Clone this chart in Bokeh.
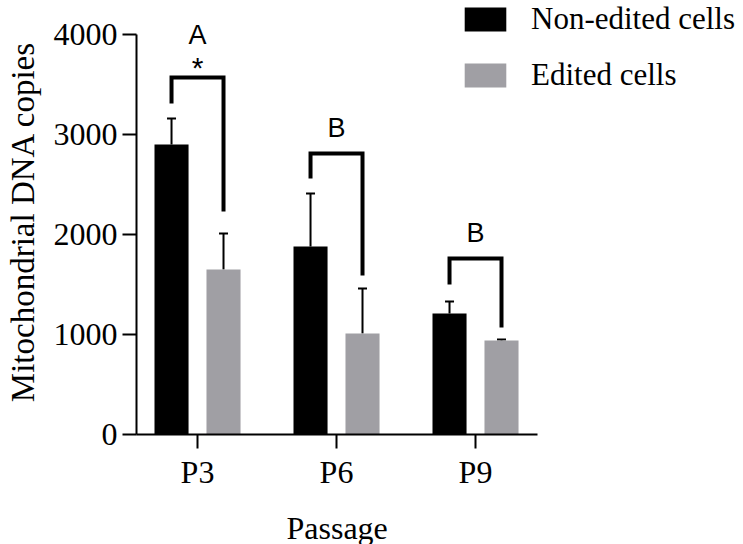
from bokeh.plotting import figure
from bokeh.models import (Range1d, Whisker, ColumnDataSource, Legend, LegendItem,
                          TeeHead, FixedTicker, Title)
from bokeh.core.properties import value
from bokeh.embed import file_html
from bokeh.resources import INLINE

passages = ["P3", "P6", "P9"]
non_edited = [2900, 1880, 1210]
non_edited_err = [260, 530, 120]
edited = [1650, 1010, 940]
edited_err = [360, 450, 10]
bracket_left_end = [3310, 2560, 1500]
bracket_top = [3570, 2810, 1760]
bracket_right_end = [2230, 1590, 1070]
group_letters = ["A", "B", "B"]
significance = ["*", "", ""]
y_ticks = [0, 1000, 2000, 3000, 4000]

OFFSET = 0.187
BAR_W = 0.245
SERIF = "Liberation Serif"
SANS = "Liberation Sans"
BLACK = "#000000"
GRAY = "#A09FA4"

centers = [i + 1 for i in range(len(passages))]
x_black = [c - OFFSET for c in centers]
x_gray = [c + OFFSET for c in centers]

p = figure(frame_width=607, frame_height=434,
           x_range=Range1d(0.561, 4.928), y_range=Range1d(0, 4340),
           output_backend="svg", toolbar_location=None,
           min_border_left=136, min_border_right=0, min_border_top=0,
           min_border_bottom=100)
p.outline_line_color = None
p.grid.visible = False
p.background_fill_color = "white"

src_b = ColumnDataSource(dict(x=x_black, top=non_edited,
                              upper=[v + e for v, e in zip(non_edited, non_edited_err)]))
src_g = ColumnDataSource(dict(x=x_gray, top=edited,
                              upper=[v + e for v, e in zip(edited, edited_err)]))

r1 = p.vbar(x="x", top="top", width=BAR_W, bottom=0, source=src_b,
            fill_color=BLACK, line_color=None)
r2 = p.vbar(x="x", top="top", width=BAR_W, bottom=0, source=src_g,
            fill_color=GRAY, line_color=None)

for src in (src_b, src_g):
    w = Whisker(base="x", upper="upper", lower="top", source=src,
                dimension="height", line_color=BLACK, line_width=2,
                upper_head=TeeHead(size=9, line_width=2, line_color=BLACK),
                lower_head=None)
    p.add_layout(w)

# significance brackets
xs = [[xb, xb, xg, xg] for xb, xg in zip(x_black, x_gray)]
ys = [[l, t, t, r] for l, t, r in zip(bracket_left_end, bracket_top, bracket_right_end)]
p.multi_line(xs=xs, ys=ys, line_color=BLACK, line_width=4, line_join="miter")

letter_y = [t + (430 if s else 260) for t, s in zip(bracket_top, significance)]
p.text(x=centers, y=letter_y, text=group_letters, text_font=value(SANS),
       text_font_size="27px", text_align="center", text_baseline="alphabetic",
       text_color=BLACK)
p.text(x=centers, y=[t + 100 for t in bracket_top], text=significance,
       text_font=value(SANS), text_font_size="30px", text_align="center",
       text_baseline="alphabetic", text_color=BLACK)

# axes
for ax in (p.xaxis[0], p.yaxis[0]):
    ax.axis_line_width = 2
    ax.major_tick_line_width = 2
    ax.major_tick_out = 14
    ax.major_tick_in = 0
    ax.minor_tick_out = 0
    ax.minor_tick_in = 0
    ax.major_label_text_font = SERIF
    ax.major_label_text_font_size = "32px"
    ax.major_label_text_color = BLACK
    ax.axis_label_text_font = SERIF
    ax.axis_label_text_font_size = "32px"
    ax.axis_label_text_font_style = "normal"
    ax.axis_label_text_color = BLACK

p.yaxis.ticker = FixedTicker(ticks=y_ticks)
p.yaxis.bounds = (y_ticks[0], y_ticks[-1])
p.yaxis.major_label_standoff = 5
p.yaxis.axis_label = "Mitochondrial  DNA copies"
p.yaxis.axis_label_text_font_size = "33px"
p.yaxis.axis_label_standoff = 10

p.xaxis.ticker = FixedTicker(ticks=centers)
p.xaxis.major_label_overrides = {c: name for c, name in zip(centers, passages)}
p.xaxis.bounds = (0.561, 3.446)
p.xaxis.major_label_standoff = 5

x_title = Title(text="Passage", align="left", offset=150, text_font=SERIF,
                text_font_size="32px", text_font_style="normal",
                text_color=BLACK, standoff=30)
p.add_layout(x_title, "below")

legend = Legend(items=[LegendItem(label="Non-edited cells", renderers=[r1]),
                       LegendItem(label="Edited cells", renderers=[r2])],
                location=(323, 341), glyph_width=52, glyph_height=30,
                label_standoff=20, label_text_font=SERIF,
                label_text_font_size="31px", label_text_color=BLACK,
                spacing=20, padding=0, margin=0, border_line_color=None,
                background_fill_alpha=0)
p.add_layout(legend)

open("out.html", "w").write(file_html(p, INLINE))
